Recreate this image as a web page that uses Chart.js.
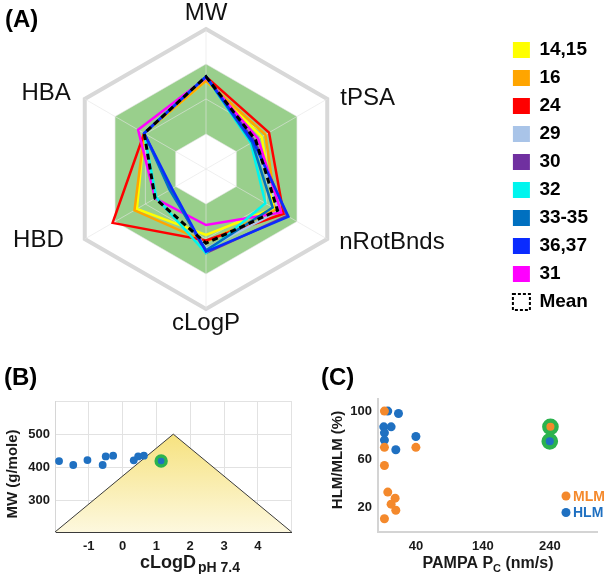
<!DOCTYPE html>
<html><head><meta charset="utf-8">
<script src="https://cdn.jsdelivr.net/npm/chart.js@4.4.0/dist/chart.umd.min.js"></script>
<style>
html,body{margin:0;padding:0;background:#fff;width:608px;height:574px;overflow:hidden;}
canvas{position:absolute;display:block;}
</style></head><body>
<canvas id="ca" width="608" height="350" style="left:0;top:0"></canvas>
<canvas id="cb" width="300" height="214" style="left:0;top:360px"></canvas>
<canvas id="cc" width="308" height="214" style="left:300px;top:360px"></canvas>
<script>
// ---------- Panel A data (radar, normalised 0..1) ----------
const radarAxes = ['MW','tPSA','nRotBnds','cLogP','HBD','HBA'];
const seriesNames = ['14,15','16','24','29','30','32','33-35','36,37','31','Mean'];
const seriesColors = ['#ffff00','#ffa500','#ff0000','#a9c4e8','#7030a0','#00f5ee','#0070c0','#0a2bff','#ff00ff','#000000'];
const cpd1415 = [0.63,0.46,0.56,0.47,0.57,0.51];
const cpd16   = [0.63,0.49,0.58,0.52,0.59,0.51];
const cpd24   = [0.66,0.52,0.64,0.51,0.77,0.51];
const cpd29   = [0.66,0.40,0.60,0.57,0.30,0.51];
const cpd30   = [0.66,0.40,0.67,0.60,0.29,0.51];
const cpd32   = [0.66,0.37,0.49,0.60,0.41,0.51];
const cpd3335 = [0.66,0.38,0.55,0.58,0.30,0.51];
const cpd3637 = [0.66,0.39,0.68,0.59,0.28,0.51];
const cpd31   = [0.65,0.43,0.62,0.40,0.42,0.56];
const cpdMean = [0.66,0.41,0.59,0.53,0.42,0.51];
const radarGridTicks = [0,0.25,0.5,0.75,1];
const druglikeBand = [0.25,0.75];

// ---------- Panel B data ----------
const bCLogD = [-1.88,-1.46,-1.04,-0.59,-0.50,-0.28,0.33,0.46,0.63];
const bMW    = [419,407,422,407,433,435,421,433,435];
const bLeadCLogD = [1.14];
const bLeadMW    = [419];
const bRuleCLogD = [-2,1.5,5];
const bRuleMW    = [205,500,205];
const bXTicks = [-2,-1,0,1,2,3,4,5];
const bXLabels = [-1,0,1,2,3,4];
const bYTicks = [300,400,500,600];
const bYLabels = [300,400,500];

// ---------- Panel C data ----------
const cHLMPampa = [-2,14,-8,3,-7,-7,10,40];
const cHLM      = [100,98,87,87,82,76,68,79];
const cMLMPampa = [-7,-7,40,-7,-2,9,3,10,-7];
const cMLM      = [100,70,70,55,33,28,23,18,11];
const cLeadPampaMLM = [241]; const cLeadMLM = [87];
const cLeadPampaHLM = [240]; const cLeadHLM = [75];
const cXTicks = [40,140,240];
const cYTicks = [20,60,100];

const FF = '"Liberation Sans", Arial, sans-serif';
const BLUE = '#1f70c1', ORANGE = '#f4892c', RING = '#2bb34e';
const pts = (xs, ys) => xs.map((x, i) => ({x, y: ys[i]}));

// ================= Panel A =================
const seriesData = [cpd1415,cpd16,cpd24,cpd29,cpd30,cpd32,cpd3335,cpd3637,cpd31,cpdMean];
const drawOrder = [9,8,7,6,5,3,2,1,4,0];

const radarPlugin = {
  id: 'radarExtras',
  afterLayout(chart) {
    const s = chart.scales.r;
    s.xCenter = 206; s.yCenter = 169; s.drawingArea = 140;
  },
  beforeDraw(chart) {
    const s = chart.scales.r, ctx = chart.ctx;
    ctx.save();
    ctx.beginPath();
    [druglikeBand[1], druglikeBand[0]].forEach(v => {
      for (let i = 0; i < radarAxes.length; i++) {
        const p = s.getPointPositionForValue(i, v);
        i === 0 ? ctx.moveTo(p.x, p.y) : ctx.lineTo(p.x, p.y);
      }
      ctx.closePath();
    });
    ctx.fillStyle = 'rgb(153,207,140)';
    ctx.fill('evenodd');
    ctx.restore();
  },
  afterDraw(chart) {
    const s = chart.scales.r, ctx = chart.ctx;
    ctx.save();
    ctx.font = '24px ' + FF;
    ctx.fillStyle = '#111';
    ctx.textBaseline = 'middle';
    const off = [[0,-16,'center'],[13,-1,'left'],[12,3,'left'],[0,14,'center'],[-21,1,'right'],[-14,-6,'right']];
    radarAxes.forEach((t, i) => {
      const p = s.getPointPosition(i, s.drawingArea);
      ctx.textAlign = off[i][2];
      ctx.fillText(t, p.x + off[i][0], p.y + off[i][1]);
    });
    ctx.font = 'bold 24px ' + FF;
    ctx.textAlign = 'left'; ctx.textBaseline = 'alphabetic'; ctx.fillStyle = '#000';
    ctx.fillText('(A)', 5, 27);
    ctx.restore();
  }
};

new Chart(document.getElementById('ca'), {
  type: 'radar',
  data: {
    labels: radarAxes,
    datasets: seriesNames.map((n, i) => ({
      label: n, data: seriesData[i],
      borderColor: seriesColors[i], backgroundColor: seriesColors[i],
      borderWidth: n === 'Mean' ? 3 : 2.5,
      borderDash: n === 'Mean' ? [6,4] : [],
      pointRadius: 0, fill: false, order: drawOrder[i], clip: false
    }))
  },
  options: {
    responsive: false, animation: false,
    layout: {padding: {top: 2, right: 10, bottom: 0, left: 0}},
    elements: {line: {tension: 0, borderJoinStyle: 'miter'}},
    scales: {
      r: {
        min: 0, max: 1,
        afterBuildTicks: s => { s.ticks = radarGridTicks.map(v => ({value: v})); },
        ticks: {display: false},
        grid: {
          color: c => (c.tick && c.tick.value === 1) ? '#d8d8d8' : 'rgba(228,228,228,0.6)',
          lineWidth: c => (c.tick && c.tick.value === 1) ? 4 : 1
        },
        angleLines: {color: 'rgba(228,228,228,0.6)', lineWidth: 1},
        pointLabels: {display: false}
      }
    },
    plugins: {
      tooltip: {enabled: false},
      legend: {
        position: 'right', align: 'center',
        labels: {
          boxWidth: 17, boxHeight: 16, padding: 9, color: '#000',
          font: {family: FF, size: 19, weight: 'bold'},
          sort: (a, b) => a.datasetIndex - b.datasetIndex,
          generateLabels: chart => {
            const items = Chart.defaults.plugins.legend.labels.generateLabels(chart);
            items.forEach(it => {
              if (it.text === 'Mean') { it.fillStyle = '#fff'; it.strokeStyle = '#000'; it.lineWidth = 2; it.lineDash = [3,2]; }
              else { it.lineWidth = 0; }
            });
            return items;
          }
        }
      }
    }
  },
  plugins: [radarPlugin]
});

// ================= Panel B =================
const tickFont = {family: FF, size: 13, weight: 'bold'};
const bPlugin = {
  id: 'bExtras',
  afterDraw(chart) {
    const ctx = chart.ctx;
    ctx.save();
    ctx.fillStyle = '#000';
    ctx.font = 'bold 24px ' + FF; ctx.textBaseline = 'alphabetic'; ctx.textAlign = 'left';
    ctx.fillText('(B)', 4, 25);
    ctx.fillStyle = '#1a1a1a';
    ctx.save();
    ctx.translate(13, 114); ctx.rotate(-Math.PI / 2);
    ctx.font = 'bold 15px ' + FF; ctx.textAlign = 'center'; ctx.textBaseline = 'middle';
    ctx.fillText('MW (g/mole)', 0, 0);
    ctx.restore();
    ctx.font = 'bold 18px ' + FF;
    const w1 = ctx.measureText('cLogD').width;
    ctx.font = 'bold 14px ' + FF;
    const w2 = ctx.measureText('pH 7.4').width;
    const x0 = 190 - (w1 + 2 + w2) / 2;
    ctx.font = 'bold 18px ' + FF; ctx.fillText('cLogD', x0, 208);
    ctx.font = 'bold 14px ' + FF; ctx.fillText('pH 7.4', x0 + w1 + 2, 212);
    ctx.restore();
  }
};
new Chart(document.getElementById('cb'), {
  type: 'scatter',
  data: {datasets: [
    {label: 'lead', data: pts(bLeadCLogD, bLeadMW), pointRadius: 5, pointBorderWidth: 3.4,
     pointBackgroundColor: BLUE, pointBorderColor: RING, order: 0},
    {label: 'compounds', data: pts(bCLogD, bMW), pointRadius: 3.9, pointBorderWidth: 0,
     pointBackgroundColor: BLUE, order: 1},
    {type: 'line', label: 'rule', data: pts(bRuleCLogD, bRuleMW), showLine: true, tension: 0,
     fill: 'start', borderColor: '#3a3a3a', borderWidth: 1, pointRadius: 0, order: 2, clip: false,
     backgroundColor: c => {
       const ch = c.chart, a = ch.chartArea;
       if (!a) return '#f8eba8';
       const g = ch.ctx.createLinearGradient(0, ch.scales.y.getPixelForValue(bRuleMW[1]), 0, a.bottom);
       g.addColorStop(0, '#f6e27f'); g.addColorStop(1, '#fdf8de');
       return g;
     }}
  ]},
  options: {
    responsive: false, animation: false,
    layout: {padding: {top: 41, right: 0, bottom: 0, left: 0}},
    plugins: {legend: {display: false}, tooltip: {enabled: false}},
    scales: {
      x: {type: 'linear', min: -2, max: 5,
        afterBuildTicks: s => { s.ticks = bXTicks.map(v => ({value: v})); },
        afterFit: s => { s.height = 42; },
        ticks: {callback: v => bXLabels.includes(v) ? String(v) : '', font: tickFont, color: '#1a1a1a', padding: 7, maxRotation: 0, autoSkip: false},
        grid: {color: '#e2e2e2', drawTicks: false},
        border: {display: true, color: '#3a3a3a', width: 1}},
      y: {type: 'linear', min: 205, max: 600,
        afterBuildTicks: s => { s.ticks = bYTicks.map(v => ({value: v})); },
        afterFit: s => { s.width = 55; },
        ticks: {callback: v => bYLabels.includes(v) ? String(v) : '', font: tickFont, color: '#1a1a1a', padding: 5, autoSkip: false},
        grid: {color: '#e2e2e2', drawTicks: false},
        border: {display: true, color: '#d6d6d6', width: 1}}
    }
  },
  plugins: [bPlugin]
});

// ================= Panel C =================
const cPlugin = {
  id: 'cExtras',
  afterDraw(chart) {
    const ctx = chart.ctx;
    ctx.save();
    ctx.fillStyle = '#000';
    ctx.font = 'bold 24px ' + FF; ctx.textBaseline = 'alphabetic'; ctx.textAlign = 'left';
    ctx.fillText('(C)', 21, 25);
    ctx.fillStyle = '#1a1a1a';
    ctx.save();
    ctx.translate(38, 100); ctx.rotate(-Math.PI / 2);
    ctx.font = 'bold 15px ' + FF; ctx.textAlign = 'center'; ctx.textBaseline = 'middle';
    ctx.fillText('HLM/MLM (%)', 0, 0);
    ctx.restore();
    ctx.font = 'bold 16px ' + FF;
    const a = 'PAMPA P', b = ' (nm/s)';
    const wa = ctx.measureText(a).width, wb = ctx.measureText(b).width;
    ctx.font = 'bold 11px ' + FF;
    const ws = ctx.measureText('C').width;
    const x0 = 188 - (wa + ws + wb) / 2;
    ctx.font = 'bold 16px ' + FF; ctx.fillText(a, x0, 208); ctx.fillText(b, x0 + wa + ws, 208);
    ctx.font = 'bold 11px ' + FF; ctx.fillText('C', x0 + wa, 212);
    // legend
    const items = [['MLM', ORANGE], ['HLM', BLUE]];
    ctx.font = 'bold 14px ' + FF; ctx.textBaseline = 'middle';
    items.forEach((it, i) => {
      const y = 136 + i * 16.5;
      ctx.fillStyle = it[1];
      ctx.beginPath(); ctx.arc(266, y, 4.5, 0, Math.PI * 2); ctx.fill();
      ctx.fillText(it[0], 273, y + 1);
    });
    ctx.restore();
  }
};
new Chart(document.getElementById('cc'), {
  type: 'scatter',
  data: {datasets: [
    {label: 'MLM lead', data: pts(cLeadPampaMLM, cLeadMLM), pointRadius: 6.2, pointBorderWidth: 4.3,
     pointBackgroundColor: ORANGE, pointBorderColor: RING, order: 0},
    {label: 'HLM lead', data: pts(cLeadPampaHLM, cLeadHLM), pointRadius: 6.2, pointBorderWidth: 4.3,
     pointBackgroundColor: BLUE, pointBorderColor: RING, order: 0},
    {label: 'MLM', data: pts(cMLMPampa, cMLM), pointRadius: 4.5, pointBorderWidth: 0,
     pointBackgroundColor: ORANGE, order: 1},
    {label: 'HLM', data: pts(cHLMPampa, cHLM), pointRadius: 4.5, pointBorderWidth: 0,
     pointBackgroundColor: BLUE, order: 2}
  ]},
  options: {
    responsive: false, animation: false,
    layout: {padding: {top: 39, right: 0, bottom: 0, left: 0}},
    plugins: {legend: {display: false}, tooltip: {enabled: false}},
    scales: {
      x: {type: 'linear', min: -16.6, max: 311.3,
        afterBuildTicks: s => { s.ticks = cXTicks.map(v => ({value: v})); },
        afterFit: s => { s.height = 42; },
        ticks: {font: tickFont, color: '#1a1a1a', padding: 7, maxRotation: 0, autoSkip: false},
        grid: {display: false, drawTicks: false},
        border: {display: true, color: '#d4d4d4', width: 2}},
      y: {type: 'linear', min: 0, max: 110,
        afterBuildTicks: s => { s.ticks = cYTicks.map(v => ({value: v})); },
        afterFit: s => { s.width = 78; },
        ticks: {font: tickFont, color: '#1a1a1a', padding: 6, autoSkip: false},
        grid: {display: false, drawTicks: false},
        border: {display: true, color: '#d4d4d4', width: 2}}
    }
  },
  plugins: [cPlugin]
});
</script>
</body></html>
